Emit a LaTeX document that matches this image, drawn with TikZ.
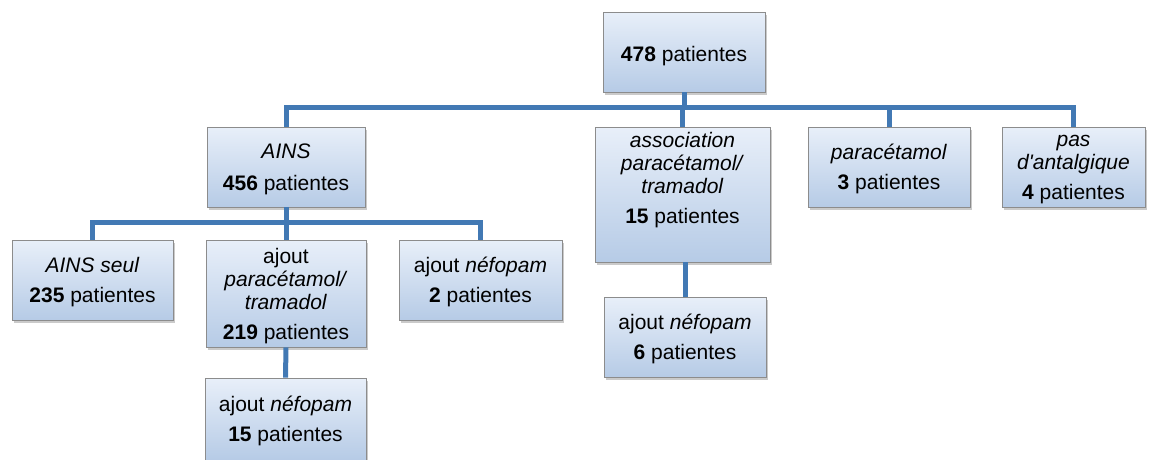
\documentclass[tikz,border=0pt]{standalone}
\usepackage{fontspec}
\setmainfont{Liberation Sans}
\usetikzlibrary{shadows}
\definecolor{boxtop}{RGB}{232,239,249}
\definecolor{boxbottom}{RGB}{182,203,230}
\definecolor{boxline}{RGB}{140,140,140}
\definecolor{busblue}{RGB}{66,121,180}
\tikzset{
  box/.style={
    draw=boxline,
    line width=0.8pt,
    top color=boxtop,
    bottom color=boxbottom,
    align=center,
    inner sep=2pt,
    text depth=0pt,
    font=\fontsize{21}{23}\selectfont,
    execute at begin node=\rule{0pt}{19pt},
    drop shadow={shadow xshift=2pt, shadow yshift=-3pt, opacity=0.35, fill=black!60}
  },
  bus/.style={
    draw=busblue,
    line width=5pt
  }
}
\newcommand{\pat}[1]{\textbf{#1} patientes}

\begin{document}
\begin{tikzpicture}[x=1pt, y=-1pt]
  \useasboundingbox (0,0) rectangle (1157,459);

  % Top level
  \node[box, minimum width=162pt, minimum height=80pt] (root) at (684,52) {\pat{478}};

  % Second level
  \node[box, minimum width=158pt, minimum height=80pt] (ains) at (286,167)
    {\textit{AINS}\\[9pt]\pat{456}};
  \node[box, minimum width=175pt, minimum height=135pt] (assoc) at (682.5,194.5)
    {\textit{association}\\\textit{paracétamol/}\\\textit{tramadol}\\[7pt]\pat{15}\\[11pt]\mbox{}};
  \node[box, minimum width=162pt, minimum height=80pt] (para) at (889,167)
    {\textit{paracétamol}\\[7pt]\pat{3}};
  \node[box, minimum width=143pt, minimum height=80pt] (pas) at (1073.5,167)
    {\textit{pas}\\\textit{d\textquotesingle antalgique}\\[7pt]\pat{4}};

  % Under AINS
  \node[box, minimum width=161pt, minimum height=80pt] (seul) at (92.5,280)
    {\textit{AINS seul}\\[7pt]\pat{235}};
  \node[box, minimum width=160pt, minimum height=107pt] (ajout) at (286,293.5)
    {ajout\\\textit{paracétamol/}\\\textit{tramadol}\\[7pt]\pat{219}};
  \node[box, minimum width=163pt, minimum height=80pt] (nefo) at (480.5,280)
    {ajout \textit{néfopam}\\[7pt]\pat{2}};

  % Third level
  \node[box, minimum width=161pt, minimum height=82pt] (nefob) at (285.5,419)
    {ajout \textit{néfopam}\\[7pt]\pat{15}};
  \node[box, minimum width=162pt, minimum height=80pt] (nefoa) at (685,337)
    {ajout \textit{néfopam}\\[7pt]\pat{6}};

  % Connectors
  \coordinate (busa) at (684,107);
  \coordinate (busb) at (286,222);
  \draw[bus] (root.south) -- (busa);
  \draw[bus] (ains.north) |- (busa) -| (pas.north);
  \draw[bus] (assoc.north) -- (assoc.north |- busa);
  \draw[bus] (para.north) -- (para.north |- busa);

  \draw[bus] (ains.south) -- (busb);
  \draw[bus] (seul.north) |- (busb) -| (nefo.north);
  \draw[bus] (ajout.north) -- (busb);

  \draw[bus] (ajout.south) -- (nefob.north);
  \draw[bus] (assoc.south -| nefoa.north) -- (nefoa.north);

\end{tikzpicture}
\end{document}
